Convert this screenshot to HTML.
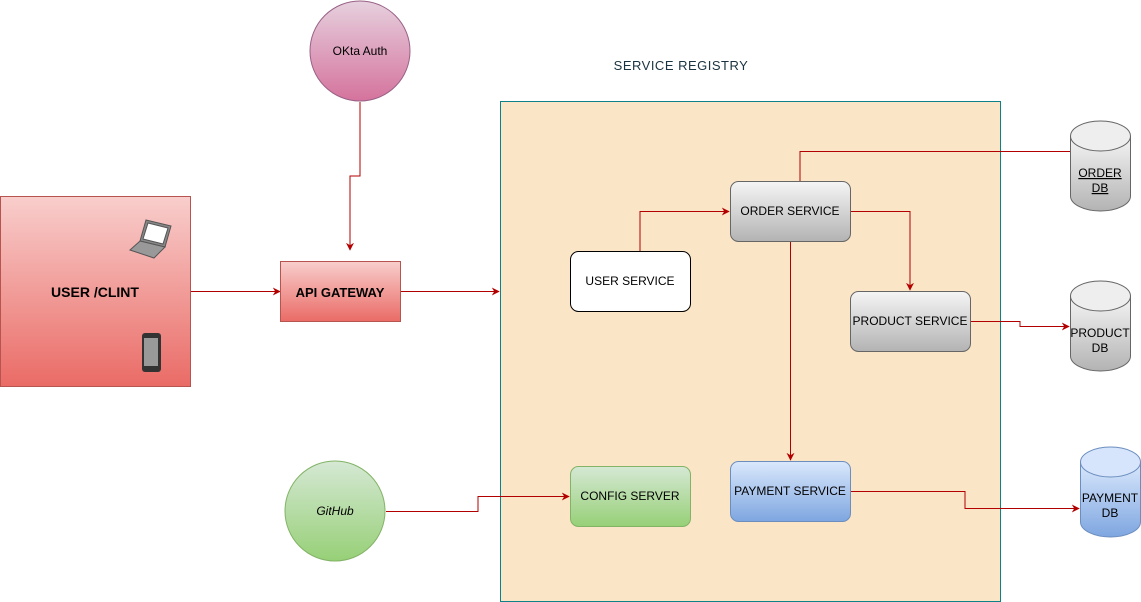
<!DOCTYPE html>
<html><head><meta charset="utf-8"><style>
html,body{margin:0;padding:0;background:#fff;}
svg{display:block;font-family:"Liberation Sans",Helvetica,sans-serif;}
</style></head><body>
<svg width="1141" height="602" viewBox="0 0 1141 602" xmlns="http://www.w3.org/2000/svg">
<defs>
<linearGradient id="red" x1="0" y1="0" x2="0" y2="1"><stop offset="0" stop-color="#f8cecc"/><stop offset="1" stop-color="#ea6b66"/></linearGradient>
<linearGradient id="pink" x1="0" y1="0" x2="0" y2="1"><stop offset="0" stop-color="#e6d0de"/><stop offset="1" stop-color="#d5739d"/></linearGradient>
<linearGradient id="gray" x1="0" y1="0" x2="0" y2="1"><stop offset="0" stop-color="#f5f5f5"/><stop offset="1" stop-color="#b3b3b3"/></linearGradient>
<linearGradient id="blue" x1="0" y1="0" x2="0" y2="1"><stop offset="0" stop-color="#dae8fc"/><stop offset="1" stop-color="#7ea6e0"/></linearGradient>
<linearGradient id="green" x1="0" y1="0" x2="0" y2="1"><stop offset="0" stop-color="#d5e8d4"/><stop offset="1" stop-color="#97d077"/></linearGradient>
<marker id="ar" viewBox="0 0 10 10" refX="9" refY="5" markerWidth="8" markerHeight="8" orient="auto" markerUnits="userSpaceOnUse"><path d="M0,0 L10,5 L0,10 L3,5z" fill="#b20000"/></marker>
</defs>

<rect x="500.5" y="101.5" width="500" height="500" fill="#fae5c7" stroke="#0e8088"/>
<text x="681" y="70" font-size="13" fill="#1a3340" text-anchor="middle" letter-spacing="0.5">SERVICE REGISTRY</text>

<!-- connectors -->
<g fill="none" stroke="#b20000" stroke-width="1">
<path d="M360,102 V176 H350 V250" marker-end="url(#ar)"/>
<path d="M191,291.5 H280" marker-end="url(#ar)"/>
<path d="M401,291.5 H499" marker-end="url(#ar)"/>
<path d="M640,251 V211.5 H729" marker-end="url(#ar)"/>
<path d="M850,211.5 H910 V290" marker-end="url(#ar)"/>
<path d="M790.5,241 V460" marker-end="url(#ar)"/>
<path d="M800,181 V151.5 H1070"/>
<path d="M970,321.5 H1020 V326.5 H1069" marker-end="url(#ar)"/>
<path d="M850,491.5 H965 V508.5 H1079" marker-end="url(#ar)"/>
<path d="M386,511.5 H478 V496.5 H569" marker-end="url(#ar)"/>
</g>

<!-- user/clint -->
<rect x="0.5" y="196.5" width="190" height="190" fill="url(#red)" stroke="#b85450"/>
<text x="95" y="297" font-size="14" font-weight="bold" text-anchor="middle">USER /CLINT</text>
<g stroke="#555" stroke-width="1">
<path d="M146,220 L171,226 L165,247 L140,241z" fill="#888"/>
<path d="M148,223 L168,228 L163,244 L143,239z" fill="#fff"/>
<path d="M130,250 L140,241 L165,247 L154,258z" fill="#999"/>
</g>
<rect x="142" y="333" width="19" height="39" rx="3" fill="#333"/>
<rect x="144" y="338" width="14" height="28" fill="#999"/>

<!-- api gateway -->
<rect x="280.5" y="261.5" width="120" height="60" fill="url(#red)" stroke="#b85450"/>
<text x="340" y="297" font-size="13" font-weight="bold" text-anchor="middle">API GATEWAY</text>

<!-- okta -->
<circle cx="360" cy="51" r="50" fill="url(#pink)" stroke="#996185"/>
<text x="360" y="55" font-size="12" text-anchor="middle">OKta Auth</text>

<!-- github -->
<circle cx="335" cy="511" r="50" fill="url(#green)" stroke="#82b366"/>
<text x="335" y="515" font-size="12" font-style="italic" text-anchor="middle">GitHub</text>

<!-- services -->
<rect x="570.5" y="251.5" width="120" height="60" rx="8" fill="#fff" stroke="#000"/>
<text x="630" y="285" font-size="12" text-anchor="middle">USER SERVICE</text>
<rect x="730.5" y="181.5" width="120" height="60" rx="8" fill="url(#gray)" stroke="#666"/>
<text x="790" y="215" font-size="12" text-anchor="middle">ORDER SERVICE</text>
<rect x="850.5" y="291.5" width="120" height="60" rx="8" fill="url(#gray)" stroke="#666"/>
<text x="910" y="325" font-size="12" text-anchor="middle">PRODUCT SERVICE</text>
<rect x="570.5" y="466.5" width="120" height="60" rx="8" fill="url(#green)" stroke="#82b366"/>
<text x="630" y="500" font-size="12" text-anchor="middle">CONFIG SERVER</text>
<rect x="730.5" y="461.5" width="120" height="60" rx="8" fill="url(#blue)" stroke="#6c8ebf"/>
<text x="790" y="495" font-size="12" text-anchor="middle">PAYMENT SERVICE</text>

<!-- DBs -->
<g>
<path d="M1070.5,136 V196 A30,15 0 0 0 1130.5,196 V136" fill="url(#gray)" stroke="#666"/>
<ellipse cx="1100.5" cy="136" rx="30" ry="15" fill="#eee" stroke="#666"/>
<text x="1100" y="177" font-size="12" text-anchor="middle" text-decoration="underline">ORDER</text>
<text x="1100" y="192" font-size="12" text-anchor="middle" text-decoration="underline">DB</text>

<path d="M1070.5,296 V356 A30,15 0 0 0 1130.5,356 V296" fill="url(#gray)" stroke="#666"/>
<ellipse cx="1100.5" cy="296" rx="30" ry="15" fill="#eee" stroke="#666"/>
<text x="1100" y="337" font-size="12" text-anchor="middle">PRODUCT</text>
<text x="1100" y="352" font-size="12" text-anchor="middle">DB</text>

<path d="M1080.5,462 V522 A30,15 0 0 0 1140.5,522 V462" fill="url(#blue)" stroke="#6c8ebf"/>
<ellipse cx="1110.5" cy="462" rx="30" ry="15" fill="#d6e5fb" stroke="#6c8ebf"/>
<text x="1110" y="502" font-size="12" text-anchor="middle">PAYMENT</text>
<text x="1110" y="517" font-size="12" text-anchor="middle">DB</text>
</g>
</svg>
</body></html>
